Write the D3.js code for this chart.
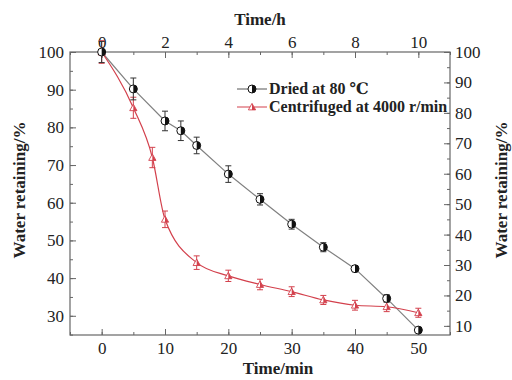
<!DOCTYPE html>
<html><head><meta charset="utf-8">
<script src="https://cdn.jsdelivr.net/npm/d3@7/dist/d3.min.js"></script>
<style>body{margin:0;background:#fff}svg{display:block}</style>
</head><body>
<svg id="c" width="512" height="380"></svg>
<script>
const timeMin = [0,5,10,12.5,15,20,25,30,35,40,45,50];
const driedVals = [100,90.2,81.7,79.1,75.2,67.6,60.9,54.3,48.2,42.5,34.6,26.2];
const driedErr  = [2.8,2.9,2.6,2.6,2.2,2.2,1.5,1.3,1.2,0.8,1.0,0.5];
const centTime = [0,5,8,10,15,20,25,30,35,40,45,50];
const centVals = [100,85.2,72,55.6,44.1,40.6,38.3,36.4,34.2,32.8,32.4,30.8];
const centErr  = [3,2.8,2.7,2.2,1.8,1.5,1.4,1.3,1.2,1.3,1.3,1.2];
const xTicks = [0,10,20,30,40,50];
const hTicks = [0,2,4,6,8,10];
const leftTicks = [30,40,50,60,70,80,90,100];
const rightTicks = [10,20,30,40,50,60,70,80,90,100];
const seriesNames = ["Dried at 80 \u2103","Centrifuged at 4000 r/min"];

const svg = d3.select("#c");
const L=70,R=450,T=52,B=335;
const x = d3.scaleLinear().domain([-5,55]).range([L,R]);
const xh = d3.scaleLinear().domain([-1,11]).range([L,R]);
const y = d3.scaleLinear().domain([24.9,100]).range([B,T]);
const yr = d3.scaleLinear().domain([7,100]).range([B,T]);
const font = "'Liberation Serif','DejaVu Serif',serif";
const axCol = "#666";

function styleAxis(g){
  g.select(".domain").remove();
  g.selectAll("line").attr("stroke",axCol);
  g.selectAll("text").attr("font-family",font).attr("font-size",17).attr("fill","#222");
}
svg.append("rect").attr("x",L).attr("y",T).attr("width",R-L).attr("height",B-T)
  .attr("fill","none").attr("stroke",axCol).attr("stroke-width",1.2);

svg.append("g").attr("transform",`translate(0,${B})`)
  .call(d3.axisBottom(x).tickValues(d3.range(-5,56,5)).tickSize(-3).tickFormat(""))
  .call(styleAxis);
svg.append("g").attr("transform",`translate(0,${B})`)
  .call(d3.axisBottom(x).tickValues(xTicks).tickSize(-6).tickPadding(7))
  .call(styleAxis);
svg.append("g").attr("transform",`translate(0,${T})`)
  .call(d3.axisTop(xh).tickValues(d3.range(-1,12,1)).tickSize(-3).tickFormat(""))
  .call(styleAxis);
svg.append("g").attr("transform",`translate(0,${T})`)
  .call(d3.axisTop(xh).tickValues(hTicks).tickSize(-6).tickPadding(4))
  .call(styleAxis);
svg.append("g").attr("transform",`translate(${L},0)`)
  .call(d3.axisLeft(y).tickValues(d3.range(25,101,5)).tickSize(-3).tickFormat(""))
  .call(styleAxis);
svg.append("g").attr("transform",`translate(${L},0)`)
  .call(d3.axisLeft(y).tickValues(leftTicks).tickSize(-6).tickPadding(6))
  .call(styleAxis);
svg.append("g").attr("transform",`translate(${R},0)`)
  .call(d3.axisRight(yr).tickValues(d3.range(10,101,5)).tickSize(-3).tickFormat(""))
  .call(styleAxis);
svg.append("g").attr("transform",`translate(${R},0)`)
  .call(d3.axisRight(yr).tickValues(rightTicks).tickSize(-6).tickPadding(5))
  .call(styleAxis);

const tf = (s)=>s.attr("font-family",font).attr("font-size",17).attr("font-weight","bold").attr("fill","#222").attr("text-anchor","middle");
svg.append("text").attr("x",(L+R)/2+18).attr("y",374).text("Time/min").call(tf);
svg.append("text").attr("x",260).attr("y",25).text("Time/h").call(tf);
svg.append("text").attr("transform",`translate(25,190) rotate(-90)`).text("Water retaining/%").call(tf);
svg.append("text").attr("transform",`translate(507,190) rotate(-90)`).text("Water retaining/%").call(tf);

const red="#d3404c";
const dried = timeMin.map((t,i)=>({t,v:driedVals[i],e:driedErr[i]}));
const cent = centTime.map((t,i)=>({t,v:centVals[i],e:centErr[i]}));
svg.append("path").datum(dried).attr("fill","none").attr("stroke","#808080").attr("stroke-width",1.2)
  .attr("d",d3.line().x(d=>x(d.t)).y(d=>y(d.v)));
svg.append("path").datum(cent).attr("fill","none").attr("stroke",red).attr("stroke-width",1.2)
  .attr("d",d3.line().curve(d3.curveMonotoneX).x(d=>x(d.t)).y(d=>y(d.v)));

function errBars(data,col){
  const g=svg.append("g").attr("stroke",col).attr("stroke-width",1);
  data.forEach(d=>{
    const cx=x(d.t),y1=y(d.v+d.e),y2=y(d.v-d.e);
    g.append("line").attr("x1",cx).attr("x2",cx).attr("y1",y1).attr("y2",y2);
    g.append("line").attr("x1",cx-3).attr("x2",cx+3).attr("y1",y1).attr("y2",y1);
    g.append("line").attr("x1",cx-3).attr("x2",cx+3).attr("y1",y2).attr("y2",y2);
  });
}
errBars(cent,red);
errBars(dried,"#333");

function halfCircle(g,cx,cy){
  const r=4;
  g.append("circle").attr("cx",cx).attr("cy",cy).attr("r",r).attr("fill","#fff").attr("stroke","#111").attr("stroke-width",1);
  g.append("path").attr("d",`M${cx},${cy-r} A${r},${r} 0 0 1 ${cx},${cy+r} Z`).attr("fill","#111");
}
function tri(g,cx,cy){
  const s=3.6, b=cy+s*0.8;
  g.append("path").attr("d",`M${cx},${cy-s} L${cx+s},${b} L${cx-s},${b} Z`)
    .attr("fill","#fff").attr("stroke",red).attr("stroke-width",0.9);
  g.append("path").attr("d",`M${cx},${cy-s} L${cx+s},${b} L${cx},${b} Z`)
    .attr("fill",red);
}
const mg=svg.append("g");
cent.forEach(d=>tri(mg,x(d.t),y(d.v)));
dried.forEach(d=>halfCircle(mg,x(d.t),y(d.v)));

const lg=svg.append("g");
const ly=[89,107];
lg.append("line").attr("x1",237).attr("x2",267).attr("y1",ly[0]).attr("y2",ly[0]).attr("stroke","#555");
halfCircle(lg,252,ly[0]);
lg.append("line").attr("x1",237).attr("x2",267).attr("y1",ly[1]).attr("y2",ly[1]).attr("stroke",red);
tri(lg,252,ly[1]);
seriesNames.forEach((n,i)=>{
  lg.append("text").attr("x",269).attr("y",ly[i]+5).text(n)
    .attr("font-family",font).attr("font-size",16).attr("font-weight","bold").attr("fill","#222");
});
</script>
</body></html>
